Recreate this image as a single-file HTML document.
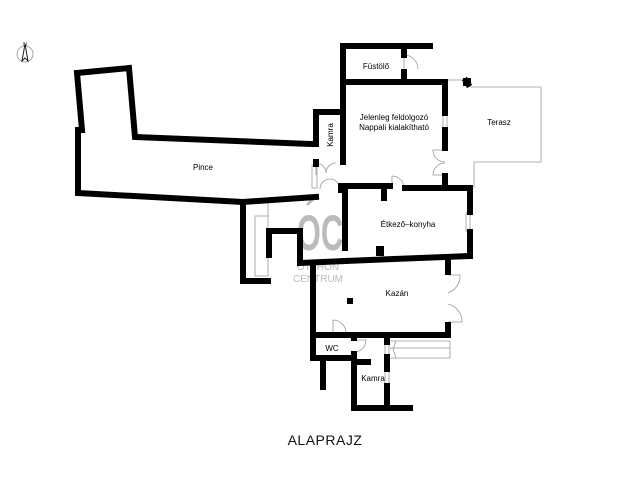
<!DOCTYPE html>
<html><head><meta charset="utf-8"><style>
html,body{margin:0;padding:0;background:#fff;}
svg{display:block;}
text{font-family:"Liberation Sans",sans-serif;}
</style></head><body>
<svg width="640" height="480" viewBox="0 0 640 480" xmlns="http://www.w3.org/2000/svg">
<rect width="640" height="480" fill="#fff"/>
<!-- compass -->
<g stroke="#888" fill="none" stroke-width="0.7">
<circle cx="25" cy="54" r="8"/>
</g>
<path d="M25 44 L22 61 L25 58 L28 61 Z" fill="none" stroke="#222" stroke-width="1"/>
<text x="25" y="46" font-size="5" text-anchor="middle">N</text>

<!-- watermark -->
<g transform="translate(320,250) scale(0.62,1)">
<text x="0" y="0" font-size="50" fill="#bbb" text-anchor="middle" font-weight="bold">OC</text>
</g>
<line x1="307" y1="205" x2="316" y2="196" stroke="#bbb" stroke-width="3"/>
<text x="318" y="270" font-size="10" fill="#bbb" text-anchor="middle">OTTHON</text>
<text x="318" y="282" font-size="10" fill="#bbb" text-anchor="middle">CENTRUM</text>

<!-- thin lines -->
<g stroke="#999" stroke-width="0.8" fill="none">
<polyline points="447,80 465,80"/>
<polyline points="470,87 541,87 541,162 474,162 474,188"/>
<rect x="255" y="216" width="13" height="60"/>
<line x1="268" y1="203" x2="268" y2="216"/>
<polyline points="390,341 450,341 450,358 390,358"/>
<line x1="390" y1="348" x2="450" y2="348"/>
<polyline points="396,341 393,349 396,358"/>
<path d="M404 55 L404 72 M404 55 A14 14 0 0 1 418 69"/>
<path d="M392 188 L392 176 A12 12 0 0 1 404 188"/>
<path d="M445 150 L433 150 A12 12 0 0 0 445 162 M445 175 L433 175 A12 12 0 0 1 445 163"/>
<path d="M448 275 L460 275 A18 18 0 0 1 448 293 M448 322 L462 322 A18 18 0 0 0 448 304"/>
<path d="M333 333 L333 320 A13 13 0 0 1 346 333"/>
<path d="M354 340 L366 340 A12 12 0 0 1 354 352"/>
<path d="M316 163 L316 175 M316 163 A10 10 0 0 1 326 173 M336 163 A10 10 0 0 0 326 173"/>
<path d="M320 189 A10 10 0 0 1 330 179 M340 189 A10 10 0 0 0 330 179"/>
<rect x="312" y="165" width="5" height="23"/>
<rect x="443" y="113" width="4" height="17"/>
<rect x="466" y="213" width="4" height="18"/>
<rect x="385" y="370" width="4" height="15"/>
<rect x="385" y="343" width="4" height="13"/>
</g>

<!-- walls -->
<g stroke="#000" stroke-width="6" fill="none" stroke-linejoin="miter" stroke-linecap="square">
<polyline points="311,144 135,137 129,68 77,73 82,130 78,130 78,193 243,202 316,197"/>
<polyline points="243,202 243,281 268,281"/>
<polyline points="269,255 269,231 300,231 300,263 345,261"/>
<polyline points="316,144 316,112 343,112 343,162"/>
<polyline points="343,112 343,46 430,46"/>
<polyline points="343,82 445,82 445,113"/>
<line x1="404" y1="48" x2="404" y2="55"/>
<line x1="404" y1="72" x2="404" y2="80"/>
<line x1="445" y1="130" x2="445" y2="148"/>
<line x1="445" y1="176" x2="445" y2="186"/>
<polyline points="466,81 468,84"/>
<polyline points="345,189 345,186 390,186"/>
<polyline points="405,188 470,188 470,212"/>
<line x1="470" y1="232" x2="470" y2="256"/>
<line x1="345" y1="190" x2="345" y2="248"/>
<line x1="384" y1="190" x2="384" y2="198"/>
<polyline points="345,261 470,256"/>
<rect x="376" y="246" width="8" height="10" fill="#000" stroke="none"/>
<line x1="316" y1="162" x2="316" y2="164"/>
<polyline points="313,263 313,358 350,358"/>
<polyline points="448,258 448,272"/>
<polyline points="448,325 448,335 313,335"/>
<line x1="323" y1="360" x2="323" y2="387"/>
<polyline points="354,336 354,338"/>
<polyline points="354,354 354,408 410,408"/>
<line x1="356" y1="362" x2="368" y2="362"/>
<line x1="387" y1="336" x2="387" y2="342"/>
<line x1="387" y1="357" x2="387" y2="369"/>
<line x1="387" y1="386" x2="387" y2="405"/>
</g>
<rect x="347" y="298" width="6" height="6" fill="#000"/>
<rect x="463" y="78" width="8" height="8" fill="#000"/>
<rect x="338" y="183" width="10" height="10" fill="#000"/>

<!-- labels -->
<g font-size="8" fill="#000" text-anchor="middle">
<text x="203" y="170">Pince</text>
<text x="376" y="69">Füstölő</text>
<text x="394" y="120">Jelenleg feldolgozó</text>
<text x="394" y="130">Nappali kialakítható</text>
<text x="499" y="125">Terasz</text>
<text x="408" y="227">Étkező–konyha</text>
<text x="397" y="296">Kazán</text>
<text x="332" y="351">WC</text>
<text x="373" y="381">Kamra</text>
<text transform="translate(333,135) rotate(-90)">Kamra</text>
</g>
<text x="325" y="445" font-size="14" text-anchor="middle" letter-spacing="0.5" fill="#111">ALAPRAJZ</text>
</svg>
</body></html>
